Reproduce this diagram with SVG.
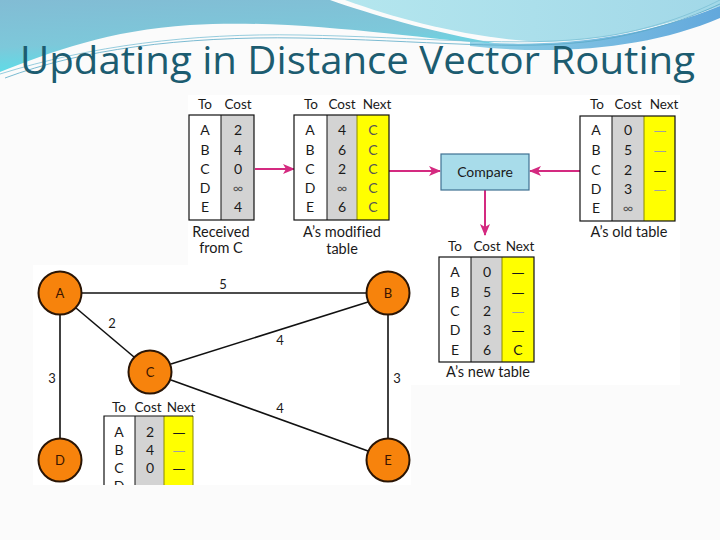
<svg xmlns="http://www.w3.org/2000/svg" width="720" height="540" viewBox="0 0 720 540">
<defs>
<linearGradient id="gBlue" x1="0" y1="0" x2="0.3" y2="1">
<stop offset="0" stop-color="#82bcd4"/>
<stop offset="0.6" stop-color="#7dc8da"/>
<stop offset="1" stop-color="#58e0ea"/>
</linearGradient>
<linearGradient id="gCyan" x1="0" y1="0" x2="1" y2="0">
<stop offset="0" stop-color="#b4e6ee"/>
<stop offset="1" stop-color="#a2d8e8"/>
</linearGradient>
<linearGradient id="gBand" x1="0" y1="0" x2="1" y2="0">
<stop offset="0" stop-color="#8fd0e6"/>
<stop offset="1" stop-color="#62a8dc"/>
</linearGradient>
<marker id="ah" viewBox="0 0 12 10" refX="11" refY="5" markerWidth="12" markerHeight="10" markerUnits="userSpaceOnUse" orient="auto">
<path d="M0,0 L12,5 L0,10 L3,5 Z" fill="#d42a80"/>
</marker>
<style>
text{font-variant-ligatures:none;font-feature-settings:"liga" 0,"dlig" 0,"clig" 0}
.title{font-family:"Open Sans",Lato,"DejaVu Sans",sans-serif;font-size:39px;fill:#1c5c70}
.t{font-family:Lato,"Open Sans","DejaVu Sans",sans-serif;font-size:14px;fill:#1a1a1a;text-anchor:middle}
.h{font-family:Lato,"Open Sans","DejaVu Sans",sans-serif;font-size:13.5px;fill:#1a1a1a;text-anchor:middle}
.dash{font-family:"DejaVu Sans",sans-serif;font-size:13px;fill:#1a1a1a;text-anchor:middle}
.lbl{font-family:Lato,"Open Sans","DejaVu Sans",sans-serif;font-size:14.5px;fill:#1a1a1a;text-anchor:middle}
.n{font-family:Lato,"Open Sans","DejaVu Sans",sans-serif;font-size:13px;fill:#3a1500;text-anchor:middle}
.el{font-family:Lato,"Open Sans","DejaVu Sans",sans-serif;font-size:13px;fill:#1a1a1a;text-anchor:middle}
.wc{fill:#ffffff}
.gc{fill:#d3d3d3}
.yc{fill:#ffff00}
.bd{fill:none;stroke:#111;stroke-width:1.2}
.sep{stroke:#111;stroke-width:1}
.ysep{stroke:#8a8a00;stroke-width:1}
.node{fill:#f7830c;stroke:#2a1505;stroke-width:2}
.edge{stroke:#111;stroke-width:1.6;fill:none}
.arr{stroke:#d42a80;stroke-width:2;fill:none;marker-end:url(#ah)}
.fd{fill:#a0a0a0}
</style>
</defs>

<!-- slide background -->
<rect x="0" y="0" width="720" height="540" fill="#fbfbfb"/>
<rect x="188" y="95" width="492" height="290" fill="#ffffff"/>
<rect x="33" y="265" width="378" height="220" fill="#ffffff"/>

<!-- decorative header waves -->
<path d="M0,0 H330 C370,14 430,32 500,44 C420,40 300,18 190,25 C110,30 50,52 0,72 Z" fill="url(#gBlue)"/>
<path d="M345,0 H720 V6 C660,28 600,42 540,42 C470,38 400,20 345,0 Z" fill="url(#gCyan)"/>
<path d="M470,42 C560,48 640,38 720,6 V18 C650,48 560,56 470,46 Z" fill="url(#gBand)"/>
<path d="M5,78 C80,50 180,36 300,38 C420,40 520,52 600,40 C650,32 690,18 720,4" fill="none" stroke="#5aaac6" stroke-width="0.8"/>
<path d="M0,74 C90,46 190,33 300,35 C420,37 520,48 600,37 C650,30 690,15 720,0" fill="none" stroke="#7cc0d6" stroke-width="0.8"/>

<text class="title" x="20" y="74" textLength="675" lengthAdjust="spacingAndGlyphs">Updating in Distance Vector Routing</text>

<!-- connectors -->
<g id="connectors">
<line class="edge" x1="82" y1="293" x2="366" y2="293"/>
<line class="edge" x1="76" y1="308" x2="134" y2="357"/>
<line class="edge" x1="60" y1="315" x2="60" y2="438"/>
<line class="edge" x1="171" y1="364" x2="368" y2="302"/>
<line class="edge" x1="171" y1="380" x2="368" y2="451"/>
<line class="edge" x1="388" y1="315" x2="388" y2="438"/>
<line class="arr" x1="255" y1="169" x2="294" y2="169"/>
<line class="arr" x1="389" y1="171" x2="440" y2="171"/>
<line class="arr" x1="580" y1="171" x2="530" y2="171"/>
<line class="arr" x1="485" y1="190" x2="485" y2="235"/>
<text class="el" x="223" y="289">5</text>
<text class="el" x="112" y="328">2</text>
<text class="el" x="280" y="345">4</text>
<text class="el" x="52" y="383">3</text>
<text class="el" x="397" y="383">3</text>
<text class="el" x="280" y="413">4</text>
</g>

<!-- nodes -->
<g id="nodeA"><circle class="node" cx="60" cy="293" r="21.5"/><text class="n" x="60" y="298">A</text></g>
<g id="nodeB"><circle class="node" cx="388" cy="293" r="21.5"/><text class="n" x="388" y="298">B</text></g>
<g id="nodeC"><circle class="node" cx="150" cy="372" r="21.5"/><text class="n" x="150" y="377">C</text></g>
<g id="nodeD"><circle class="node" cx="60" cy="460" r="21.5"/><text class="n" x="60" y="465">D</text></g>
<g id="nodeE"><circle class="node" cx="388" cy="460" r="21.5"/><text class="n" x="388" y="465">E</text></g>

<!-- Received from C -->
<g id="tableReceived">
<rect class="wc" x="189" y="115" width="32" height="105"/>
<rect class="gc" x="221" y="115" width="33" height="105"/>
<line class="sep" x1="221" y1="115" x2="221" y2="220"/>
<rect class="bd" x="189" y="115" width="65" height="105"/>
<text class="h" x="205" y="109">To</text><text class="h" x="238" y="109">Cost</text>
<text class="t" x="205" y="135">A</text><text class="t" x="238" y="135">2</text>
<text class="t" x="205" y="155">B</text><text class="t" x="238" y="155">4</text>
<text class="t" x="205" y="174">C</text><text class="t" x="238" y="174">0</text>
<text class="t" x="205" y="193">D</text><text class="t" x="238" y="193" style="fill:#555">∞</text>
<text class="t" x="205" y="212">E</text><text class="t" x="238" y="212">4</text>
<text class="lbl" x="221" y="237">Received</text>
<text class="lbl" x="221" y="253">from C</text>
</g>

<!-- A's modified table -->
<g id="tableModified">
<rect class="wc" x="294" y="115" width="33" height="105"/>
<rect class="gc" x="327" y="115" width="30" height="105"/>
<rect class="yc" x="357" y="115" width="32" height="105"/>
<line class="sep" x1="327" y1="115" x2="327" y2="220"/>
<line class="ysep" x1="357" y1="115" x2="357" y2="220"/>
<rect class="bd" x="294" y="115" width="95" height="105"/>
<text class="h" x="311" y="109">To</text><text class="h" x="342" y="109">Cost</text><text class="h" x="377" y="109">Next</text>
<text class="t" x="310" y="135">A</text><text class="t" x="342" y="135">4</text><text class="t" x="373" y="135" style="fill:#555">C</text>
<text class="t" x="310" y="155">B</text><text class="t" x="342" y="155">6</text><text class="t" x="373" y="155" style="fill:#555">C</text>
<text class="t" x="310" y="174">C</text><text class="t" x="342" y="174">2</text><text class="t" x="373" y="174" style="fill:#555">C</text>
<text class="t" x="310" y="193">D</text><text class="t" x="342" y="193" style="fill:#555">∞</text><text class="t" x="373" y="193" style="fill:#555">C</text>
<text class="t" x="310" y="212">E</text><text class="t" x="342" y="212">6</text><text class="t" x="373" y="212" style="fill:#555">C</text>
<text class="lbl" x="342" y="237">A’s modified</text>
<text class="lbl" x="342" y="254">table</text>
</g>

<!-- Compare -->
<g id="compare">
<rect x="441" y="154" width="88" height="36" fill="#a8dcea" stroke="#3f7192" stroke-width="1.2"/>
<text class="t" x="485" y="177">Compare</text>
</g>

<!-- A's old table -->
<g id="tableOld">
<rect class="wc" x="580" y="116" width="32" height="105"/>
<rect class="gc" x="612" y="116" width="32" height="105"/>
<rect class="yc" x="644" y="116" width="31" height="105"/>
<line class="sep" x1="612" y1="116" x2="612" y2="221"/>
<line class="ysep" x1="644" y1="116" x2="644" y2="221"/>
<rect class="bd" x="580" y="116" width="95" height="105"/>
<text class="h" x="597" y="109">To</text><text class="h" x="628" y="109">Cost</text><text class="h" x="664" y="109">Next</text>
<text class="t" x="596" y="135">A</text><text class="t" x="628" y="135">0</text><text class="dash fd" x="660" y="135">—</text>
<text class="t" x="596" y="155">B</text><text class="t" x="628" y="155">5</text><text class="dash fd" x="660" y="155">—</text>
<text class="t" x="596" y="175">C</text><text class="t" x="628" y="175">2</text><text class="dash" x="660" y="175">—</text>
<text class="t" x="596" y="194">D</text><text class="t" x="628" y="194">3</text><text class="dash fd" x="660" y="194">—</text>
<text class="t" x="596" y="213">E</text><text class="t" x="628" y="213" style="fill:#555">∞</text>
<text class="lbl" x="629" y="237">A’s old table</text>
</g>

<!-- A's new table -->
<g id="tableNew">
<rect class="wc" x="439" y="257" width="32" height="105"/>
<rect class="gc" x="471" y="257" width="31" height="105"/>
<rect class="yc" x="502" y="257" width="32" height="105"/>
<line class="sep" x1="471" y1="257" x2="471" y2="362"/>
<line class="ysep" x1="502" y1="257" x2="502" y2="362"/>
<rect class="bd" x="439" y="257" width="95" height="105"/>
<text class="h" x="455" y="251">To</text><text class="h" x="487" y="251">Cost</text><text class="h" x="520" y="251">Next</text>
<text class="t" x="455" y="277">A</text><text class="t" x="487" y="277">0</text><text class="dash" x="518" y="277">—</text>
<text class="t" x="455" y="297">B</text><text class="t" x="487" y="297">5</text><text class="dash" x="518" y="297">—</text>
<text class="t" x="455" y="316">C</text><text class="t" x="487" y="316">2</text><text class="dash fd" x="518" y="316">—</text>
<text class="t" x="455" y="335">D</text><text class="t" x="487" y="335">3</text><text class="dash" x="518" y="335">—</text>
<text class="t" x="455" y="355">E</text><text class="t" x="487" y="355">6</text><text class="t" x="518" y="355">C</text>
<text class="lbl" x="488" y="377">A’s new table</text>
</g>

<!-- C's table (clipped) -->
<clipPath id="clipC"><rect x="33" y="265" width="378" height="220"/></clipPath>
<g id="tableC" clip-path="url(#clipC)">
<rect class="wc" x="104" y="416" width="31" height="100"/>
<rect class="gc" x="135" y="416" width="29" height="100"/>
<rect class="yc" x="164" y="416" width="29" height="100"/>
<line class="sep" x1="135" y1="416" x2="135" y2="516"/>
<line class="ysep" x1="164" y1="416" x2="164" y2="516"/>
<line class="ysep" x1="193" y1="416" x2="193" y2="516"/>
<path d="M104,516 V416 H193" class="bd"/>
<text class="h" x="119" y="412">To</text><text class="h" x="148" y="412">Cost</text><text class="h" x="181" y="412">Next</text>
<text class="t" x="119" y="437">A</text><text class="t" x="150" y="437">2</text><text class="dash" x="179" y="437">—</text>
<text class="t" x="119" y="455">B</text><text class="t" x="150" y="455">4</text><text class="dash fd" x="179" y="455">—</text>
<text class="t" x="119" y="473">C</text><text class="t" x="150" y="473">0</text><text class="dash" x="179" y="473">—</text>
<text class="t" x="119" y="491">D</text>
</g>
</svg>
